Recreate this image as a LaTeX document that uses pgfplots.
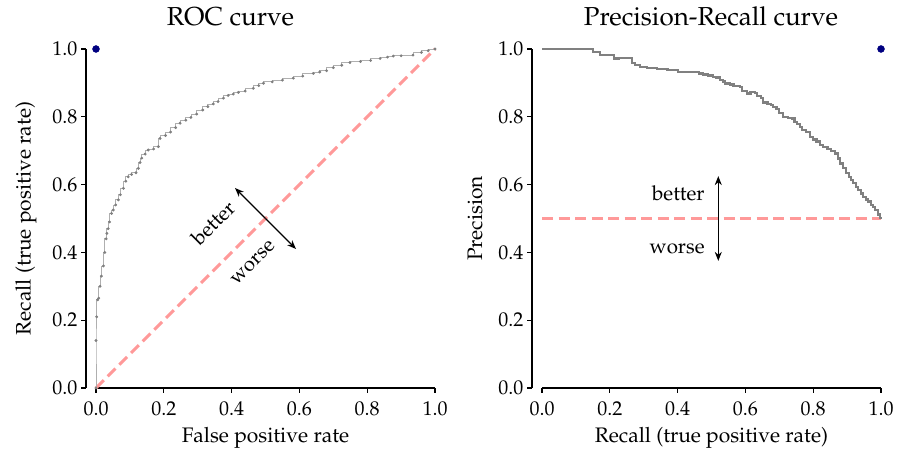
\documentclass[border=0pt]{standalone}
\usepackage[T1]{fontenc}
\usepackage{mathpazo}
\usepackage{pgfplots}
\usetikzlibrary{arrows.meta}
\pgfplotsset{compat=1.18}
\definecolor{curvegray}{RGB}{128,128,128}
\definecolor{linegray}{RGB}{175,175,175}
\definecolor{pinkred}{RGB}{255,153,153}
\definecolor{navydot}{RGB}{0,0,128}
\pgfplotsset{
  myaxis/.style={
    scale only axis, width=349pt, height=339pt,
    xmin=-0.0295, xmax=1, ymin=0, ymax=1,
    axis x line*=bottom, axis y line*=left,
    x axis line style={draw=none},
    axis line style={line width=1.1pt, -},
    xtick={0,0.2,0.4,0.6,0.8,1}, ytick={0,0.2,0.4,0.6,0.8,1},
    tick align=outside, major tick length=5pt,
    every tick/.style={black, line width=1.1pt},
    tick label style={font=\fontsize{20}{24}\selectfont},
    label style={font=\fontsize{21}{25}\selectfont},
    xticklabel style={yshift=-5pt, /pgf/number format/fixed, /pgf/number format/fixed zerofill, /pgf/number format/precision=1},
    yticklabel style={/pgf/number format/fixed, /pgf/number format/fixed zerofill, /pgf/number format/precision=1},
    ylabel shift=9pt,
    xlabel style={at={(axis cs:0.5,0)}, anchor=base, yshift=-54pt},
    clip=false,
  }
}
\begin{document}
\begin{tikzpicture}
\useasboundingbox (0,0) rectangle (899pt,452pt);
% ---------------- ROC ----------------
\begin{axis}[myaxis, at={(86pt,64pt)}, anchor=south west,
  xlabel={False positive rate}, ylabel={Recall (true positive rate)}]
\draw[line width=1.1pt] (axis cs:0,0) -- (axis cs:1,0);
\addplot[pinkred, line width=3pt, dash pattern=on 11pt off 5.5pt] coordinates {(0,0) (1,1)};
\addplot[linegray, line width=0.8pt, const plot mark right, mark=*, mark size=1pt, mark options={curvegray, draw=curvegray, fill=curvegray}] coordinates {
(0,0) (0,0.14) (0.002,0.21) (0.005,0.26) (0.008,0.265) (0.012,0.30) (0.016,0.33)
(0.022,0.36) (0.026,0.40) (0.030,0.44) (0.032,0.456) (0.036,0.47) (0.040,0.49)
(0.046,0.515) (0.051,0.525) (0.058,0.54) (0.066,0.555) (0.072,0.57) (0.081,0.589)
(0.088,0.61) (0.095,0.623) (0.105,0.63) (0.118,0.635) (0.125,0.648) (0.130,0.665)
(0.135,0.678) (0.145,0.69) (0.154,0.702) (0.170,0.705) (0.184,0.712) (0.189,0.736)
(0.205,0.745) (0.220,0.755) (0.235,0.768) (0.248,0.781) (0.265,0.79) (0.280,0.798)
(0.297,0.808) (0.315,0.82) (0.330,0.83) (0.346,0.838) (0.360,0.845) (0.376,0.855)
(0.390,0.863) (0.405,0.867) (0.420,0.872) (0.440,0.876) (0.464,0.884) (0.480,0.892)
(0.494,0.899) (0.520,0.903) (0.550,0.908) (0.582,0.914) (0.610,0.92) (0.641,0.928)
(0.660,0.932) (0.680,0.936) (0.700,0.945) (0.725,0.952) (0.749,0.960) (0.780,0.963)
(0.810,0.966) (0.838,0.972) (0.860,0.976) (0.877,0.979) (0.900,0.98) (0.935,0.982)
(0.960,0.99) (0.980,0.995) (1.0,1.0)};
\addplot[only marks, mark=*, mark size=3.5pt, navydot] coordinates {(0,1)};
\draw[-{Stealth[length=9pt,width=7pt]}, line width=1.1pt] (axis cs:0.5,0.5) -- (axis cs:0.41,0.59);
\draw[-{Stealth[length=9pt,width=7pt]}, line width=1.1pt] (axis cs:0.5,0.5) -- (axis cs:0.59,0.41);
\node[rotate=45, font=\fontsize{20.5}{24}\selectfont] at (axis cs:0.345,0.487) {better};
\node[rotate=45, font=\fontsize{20.5}{24}\selectfont] at (axis cs:0.463,0.369) {worse};
\end{axis}
\node[anchor=base, font=\fontsize{26}{30}\selectfont] at (230.5pt,426pt) {ROC curve};
% ---------------- PR ----------------
\begin{axis}[myaxis, at={(532pt,64pt)}, anchor=south west,
  xlabel={Recall (true positive rate)}, ylabel={Precision}]
\draw[line width=1.1pt] (axis cs:0,0) -- (axis cs:1,0);
\addplot[pinkred, line width=3pt, dash pattern=on 11pt off 5.5pt] coordinates {(0,0.5) (1,0.5)};
\addplot[curvegray, line width=2.2pt, const plot] coordinates {
(0,1) (0.151,1) (0.151,0.992) (0.171,0.990) (0.171,0.983) (0.213,0.983) (0.213,0.972)
(0.228,0.974) (0.265,0.976) (0.265,0.958) (0.275,0.958) (0.275,0.952) (0.290,0.952)
(0.290,0.946) (0.309,0.943) (0.330,0.945) (0.340,0.941) (0.360,0.940) (0.370,0.937)
(0.390,0.937) (0.400,0.932) (0.430,0.933) (0.456,0.933) (0.462,0.928) (0.476,0.925)
(0.490,0.922) (0.505,0.918) (0.515,0.916) (0.525,0.908) (0.535,0.904) (0.540,0.898)
(0.555,0.895) (0.565,0.892) (0.584,0.887) (0.590,0.877) (0.597,0.876) (0.604,0.869)
(0.615,0.872) (0.628,0.870) (0.635,0.862) (0.645,0.855) (0.653,0.842) (0.665,0.838)
(0.675,0.834) (0.682,0.830) (0.692,0.822) (0.700,0.812) (0.712,0.800) (0.725,0.797)
(0.737,0.795) (0.745,0.785) (0.752,0.778) (0.760,0.770) (0.768,0.760) (0.778,0.754)
(0.791,0.741) (0.800,0.733) (0.810,0.727) (0.820,0.717) (0.830,0.710) (0.842,0.705)
(0.852,0.700) (0.864,0.692) (0.872,0.677) (0.880,0.662) (0.889,0.648) (0.897,0.635)
(0.905,0.622) (0.912,0.613) (0.918,0.604) (0.926,0.594) (0.932,0.583) (0.940,0.574)
(0.948,0.564) (0.956,0.556) (0.962,0.550) (0.970,0.540) (0.977,0.535) (0.983,0.526)
(0.990,0.512) (0.997,0.502) (1.0,0.500)};
\addplot[only marks, mark=*, mark size=3.5pt, navydot] coordinates {(1,1)};
\draw[-{Stealth[length=9pt,width=7pt]}, line width=1.1pt] (axis cs:0.52,0.5) -- (axis cs:0.52,0.625);
\draw[-{Stealth[length=9pt,width=7pt]}, line width=1.1pt] (axis cs:0.52,0.5) -- (axis cs:0.52,0.375);
\node[anchor=east, font=\fontsize{20.5}{24}\selectfont] at (axis cs:0.49,0.575) {better};
\node[anchor=east, font=\fontsize{20.5}{24}\selectfont] at (axis cs:0.49,0.41) {worse};
\end{axis}
\node[anchor=base, font=\fontsize{26}{30}\selectfont] at (711pt,426pt) {Precision-Recall curve};
\end{tikzpicture}
\end{document}
